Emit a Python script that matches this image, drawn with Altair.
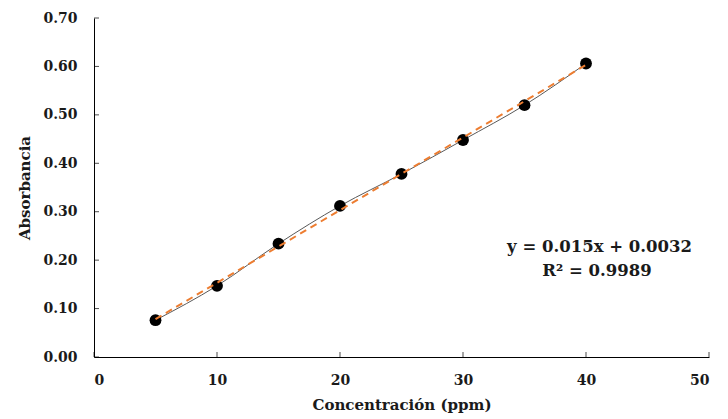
import altair as alt
import pandas as pd

conc = [5, 10, 15, 20, 25, 30, 35, 40]
absorb = [0.076, 0.147, 0.234, 0.312, 0.378, 0.448, 0.520, 0.606]

slope = 0.015
intercept = 0.0032
trend_x = [5, 40]
trend_y = [slope * v + intercept for v in trend_x]

x_ticks = [0, 10, 20, 30, 40, 50]
y_ticks = [0.0, 0.1, 0.2, 0.3, 0.4, 0.5, 0.6, 0.7]

ann_text = ["y = 0.015x + 0.0032", "R² = 0.9989"]
ann_x = [41.1, 40.9]
ann_y = [0.228, 0.178]

FONT = "DejaVu Serif"

pts = pd.DataFrame({"x": conc, "y": absorb})
trend = pd.DataFrame({"x": trend_x, "y": trend_y})
ann = pd.DataFrame({"t": ann_text, "x": ann_x, "y": ann_y})
xt = pd.DataFrame({"v": x_ticks})
yt = pd.DataFrame({"v": y_ticks})

xs = alt.Scale(domain=[0, 50], nice=False, zero=True)
ys = alt.Scale(domain=[0, 0.7], nice=False)

xax = alt.Axis(values=x_ticks, format="d", ticks=False, grid=False,
               labelFont=FONT, labelFontWeight="bold", labelFontSize=14,
               labelColor="#1a1a1a", labelPadding=16, domainColor="#000",
               title="Concentración (ppm)", titleFont=FONT, titleFontWeight="bold",
               titleFontSize=15, titleColor="#1a1a1a", titlePadding=10)
yax = alt.Axis(values=y_ticks, format=".2f", ticks=False, grid=False,
               labelFont=FONT, labelFontWeight="bold", labelFontSize=14,
               labelColor="#1a1a1a", labelPadding=17, domainColor="#000",
               title="Absorbancia", titleFont=FONT, titleFontWeight="bold",
               titleFontSize=15, titleColor="#1a1a1a", titlePadding=10)

base_axes = alt.Chart(pts).mark_point(opacity=0).encode(
    x=alt.X("x:Q", scale=xs, axis=xax),
    y=alt.Y("y:Q", scale=ys, axis=yax),
)

xtick = alt.Chart(xt).mark_tick(color="#000", thickness=1, size=5, orient="vertical", yOffset=-2.5).encode(
    x=alt.X("v:Q", scale=xs), y=alt.datum(0.0)
)
ytick = alt.Chart(yt).mark_tick(color="#000", thickness=1, size=5, orient="horizontal", xOffset=2.5).encode(
    y=alt.Y("v:Q", scale=ys), x=alt.datum(0)
)

line = alt.Chart(pts).mark_line(color="#595959", strokeWidth=1, interpolate="monotone").encode(
    x=alt.X("x:Q", scale=xs), y=alt.Y("y:Q", scale=ys)
)
tl = alt.Chart(trend).mark_line(color="#ED7D31", strokeWidth=2, strokeDash=[7, 5]).encode(
    x=alt.X("x:Q", scale=xs), y=alt.Y("y:Q", scale=ys)
)
dots = alt.Chart(pts).mark_circle(color="#000", opacity=1, size=140).encode(
    x=alt.X("x:Q", scale=xs), y=alt.Y("y:Q", scale=ys)
)
txt = alt.Chart(ann).mark_text(font=FONT, fontWeight="bold", fontSize=16.5, color="#1a1a1a").encode(
    x=alt.X("x:Q", scale=xs), y=alt.Y("y:Q", scale=ys), text="t:N"
)

chart = alt.layer(base_axes, xtick, ytick, line, dots, tl, txt).properties(
    width=615, height=339,
    autosize=alt.AutoSizeParams(type="none"),
    padding={"left": 86, "top": 10, "right": 4, "bottom": 62},
    background="white",
).configure_view(stroke=None)

chart.save("out.html", embed_options={"renderer": "svg", "actions": False})
